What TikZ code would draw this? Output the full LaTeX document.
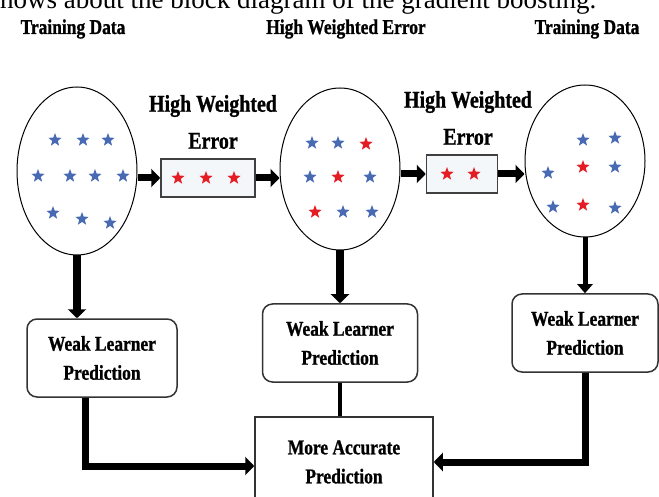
\documentclass[tikz,border=0pt]{standalone}
\usepackage{fontspec}
\setmainfont{Liberation Serif}
\newfontfamily\heavyfont[FakeStretch=0.83, FakeBold=1]{Liberation Serif}
\usetikzlibrary{shapes.geometric, arrows.meta}

\definecolor{starblue}{RGB}{72,106,178}
\definecolor{starred}{RGB}{228,28,36}
\definecolor{boxfill}{RGB}{244,247,250}

\begin{document}
\begin{tikzpicture}[x=1pt, y=-1pt,
    bluestar/.style={star, star points=5, star point ratio=2.4, inner sep=0pt, minimum size=14pt, fill=starblue},
    redstar/.style={bluestar, fill=starred},
    dataset/.style={draw, ellipse, line width=1pt, minimum width=120pt, inner sep=0pt},
    errbox/.style={draw=black!75, line width=1.5pt, fill=boxfill, minimum height=38pt},
    learner/.style={draw=black!80, line width=1.5pt, rounded corners=10pt, align=center,
        minimum height=78pt, font=\heavyfont\bfseries\fontsize{21}{29}\selectfont},
    heading/.style={font=\heavyfont\bfseries\fontsize{21}{24}\selectfont},
    errlabel/.style={align=center, font=\heavyfont\bfseries\fontsize{24}{37}\selectfont},
    bigarrow/.style={line width=7pt, -{Triangle[length=9pt, width=18pt]}}]
    \clip (0,0) rectangle (659,497);

    \node[anchor=base west, font=\fontsize{27}{27}\selectfont, inner sep=0pt] (caption) at (-10.5,9) {shows about the block diagram of the gradient boosting.};

    \node[heading] (head1) at (73,29) {Training Data};
    \node[heading] (head2) at (346,29) {High Weighted Error};
    \node[heading] (head3) at (587,29) {Training Data};

    % data sets
    \node[dataset, minimum height=168pt] (data1) at (77,171) {};
    \node[dataset, minimum height=162pt] (data2) at (340,169) {};
    \node[dataset, minimum height=152pt] (data3) at (585,161) {};

    \foreach \px/\py/\col [count=\i] in {55/140/blue, 83/140/blue, 108/140/blue,
        38/176/blue, 70/176/blue, 95/176/blue, 123/176/blue,
        53/213/blue, 82/219/blue, 110/223/blue}
        \node[\col star] (a\i) at (\px,\py) {};
    \foreach \px/\py/\col [count=\i] in {312/143/blue, 338/143/blue, 366/144/red,
        310/177/blue, 338/177/red, 370/177/blue,
        315/212/red, 343/212/blue, 372/212/blue}
        \node[\col star] (b\i) at (\px,\py) {};
    \foreach \px/\py/\col [count=\i] in {583/140/blue, 615/138/blue,
        548/173/blue, 583/167/red, 615/167/blue,
        553/207/blue, 583/205/red, 615/208/blue}
        \node[\col star] (c\i) at (\px,\py) {};

    % high weighted errors
    \node[errbox, minimum width=94pt] (err1) at (208,178) {};
    \node[errbox, minimum width=71pt] (err2) at (462,174) {};
    \node[errlabel] (lab1) at (213,122) {High Weighted\\Error};
    \node[errlabel] (lab2) at (468,118) {High Weighted\\Error};
    \foreach \px [count=\i] in {178,206,234}
        \node[redstar] (e\i) at (\px,178) {};
    \foreach \px [count=\i] in {447,474}
        \node[redstar] (f\i) at (\px,174) {};

    \draw[bigarrow] (data1.east |- err1.west) -- (err1.west);
    \draw[bigarrow] (err1.east) -- (err1.east -| data2.west);
    \draw[bigarrow] (data2.east |- err2.west) -- (err2.west);
    \draw[bigarrow] (err2.east) -- (err2.east -| data3.west);

    % predictions
    \node[learner, minimum width=150pt] (weak1) at (102,358) {Weak Learner\\Prediction};
    \node[learner, minimum width=155pt] (weak2) at (340,343) {Weak Learner\\Prediction};
    \node[learner, minimum width=146pt] (weak3) at (585,333) {Weak Learner\\Prediction};
    \node[draw=black!80, line width=1.5pt, minimum width=178pt, minimum height=90pt, align=center,
        font=\heavyfont\bfseries\fontsize{21}{29}\selectfont] (final) at (344,462) {More Accurate\\Prediction};

    \draw[bigarrow, line width=8pt] (data1.south) -- (data1.south |- weak1.north);
    \draw[bigarrow, line width=8pt] (data2.south) -- (weak2.north);
    \draw[line width=5pt, -{Triangle[length=9pt, width=15pt]}] (data3.south) -- (weak3.north);

    \draw[bigarrow] ([xshift=-17pt]weak1.south) |- ([yshift=-4pt]final.west);
    \draw[line width=4pt] (weak2.south) -- (weak2.south |- final.north);
    \draw[bigarrow] (weak3.south) |- (final.east);
\end{tikzpicture}
\end{document}
